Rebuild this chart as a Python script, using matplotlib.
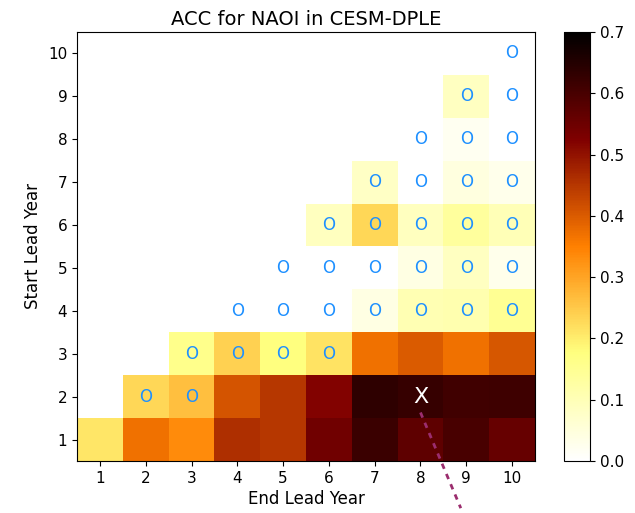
import numpy as np
import matplotlib
matplotlib.use("Agg")
import matplotlib.pyplot as plt

# lead years
end_years = [1, 2, 3, 4, 5, 6, 7, 8, 9, 10]
start_years = [1, 2, 3, 4, 5, 6, 7, 8, 9, 10]

# ACC values, one row per start lead year (nan where start > end)
acc_row1 = [0.21, 0.37, 0.335, 0.46, 0.45, 0.545, 0.62, 0.57, 0.60, 0.56]
acc_row2 = [np.nan, 0.23, 0.265, 0.41, 0.45, 0.52, 0.635, 0.625, 0.61, 0.615]
acc_row3 = [np.nan, np.nan, 0.16, 0.24, 0.175, 0.215, 0.37, 0.40, 0.37, 0.405]
acc_row4 = [np.nan, np.nan, np.nan, -0.05, -0.03, -0.02, 0.04, 0.105, 0.11, 0.15]
acc_row5 = [np.nan, np.nan, np.nan, np.nan, -0.05, -0.04, -0.01, 0.04, 0.085, 0.03]
acc_row6 = [np.nan, np.nan, np.nan, np.nan, np.nan, 0.09, 0.23, 0.09, 0.135, 0.10]
acc_row7 = [np.nan, np.nan, np.nan, np.nan, np.nan, np.nan, 0.08, -0.02, 0.045, 0.03]
acc_row8 = [np.nan, np.nan, np.nan, np.nan, np.nan, np.nan, np.nan, -0.03, 0.02, -0.01]
acc_row9 = [np.nan, np.nan, np.nan, np.nan, np.nan, np.nan, np.nan, np.nan, 0.085, -0.02]
acc_row10 = [np.nan, np.nan, np.nan, np.nan, np.nan, np.nan, np.nan, np.nan, np.nan, -0.04]

# cells not significant (marked with O): (end, start)
not_sig = [(2, 2), (3, 2), (3, 3), (4, 3), (5, 3), (6, 3),
           (4, 4), (5, 4), (6, 4), (7, 4), (8, 4), (9, 4), (10, 4),
           (5, 5), (6, 5), (7, 5), (8, 5), (9, 5), (10, 5),
           (6, 6), (7, 6), (8, 6), (9, 6), (10, 6),
           (7, 7), (8, 7), (9, 7), (10, 7),
           (8, 8), (9, 8), (10, 8),
           (9, 9), (10, 9),
           (10, 10)]
best = (8, 2)

acc = np.array([acc_row1, acc_row2, acc_row3, acc_row4, acc_row5,
                acc_row6, acc_row7, acc_row8, acc_row9, acc_row10])

fig = plt.figure(figsize=(6.35, 5.13), dpi=100)
ax = fig.add_axes([0.1213, 0.1014, 0.7212, 0.8362])
cax = fig.add_axes([0.888, 0.1014, 0.041, 0.8362])

data = np.ma.masked_invalid(acc)
im = ax.pcolormesh(np.arange(0.5, 11, 1), np.arange(0.5, 11, 1), data,
                   cmap="afmhot_r", vmin=0, vmax=0.7)

for (e, s) in not_sig:
    ax.text(e, s, "O", color="dodgerblue", fontsize=12, ha="center", va="center")
ax.text(best[0], best[1], "X", color="white", fontsize=16, ha="center", va="center")

# dashed connector leaving the panel
ax.plot([best[0], best[0] + 0.88], [best[1] - 0.37, best[1] - 2.6], ls=(0, (2, 2)),
        color="#9b2d6e", lw=2, clip_on=False)

ax.set_xlim(0.5, 10.5)
ax.set_ylim(0.5, 10.5)
ax.set_xticks(end_years)
ax.set_yticks(start_years)
ax.tick_params(labelsize=11)
ax.set_xlabel("End Lead Year", fontsize=12, labelpad=3)
ax.set_ylabel("Start Lead Year", fontsize=12)
ax.set_title("ACC for NAOI in CESM-DPLE", fontsize=14, pad=5)

cb = fig.colorbar(im, cax=cax)
cb.set_ticks([0, 0.1, 0.2, 0.3, 0.4, 0.5, 0.6, 0.7])
cb.ax.tick_params(labelsize=11)

fig.savefig("out.png", dpi=100)
